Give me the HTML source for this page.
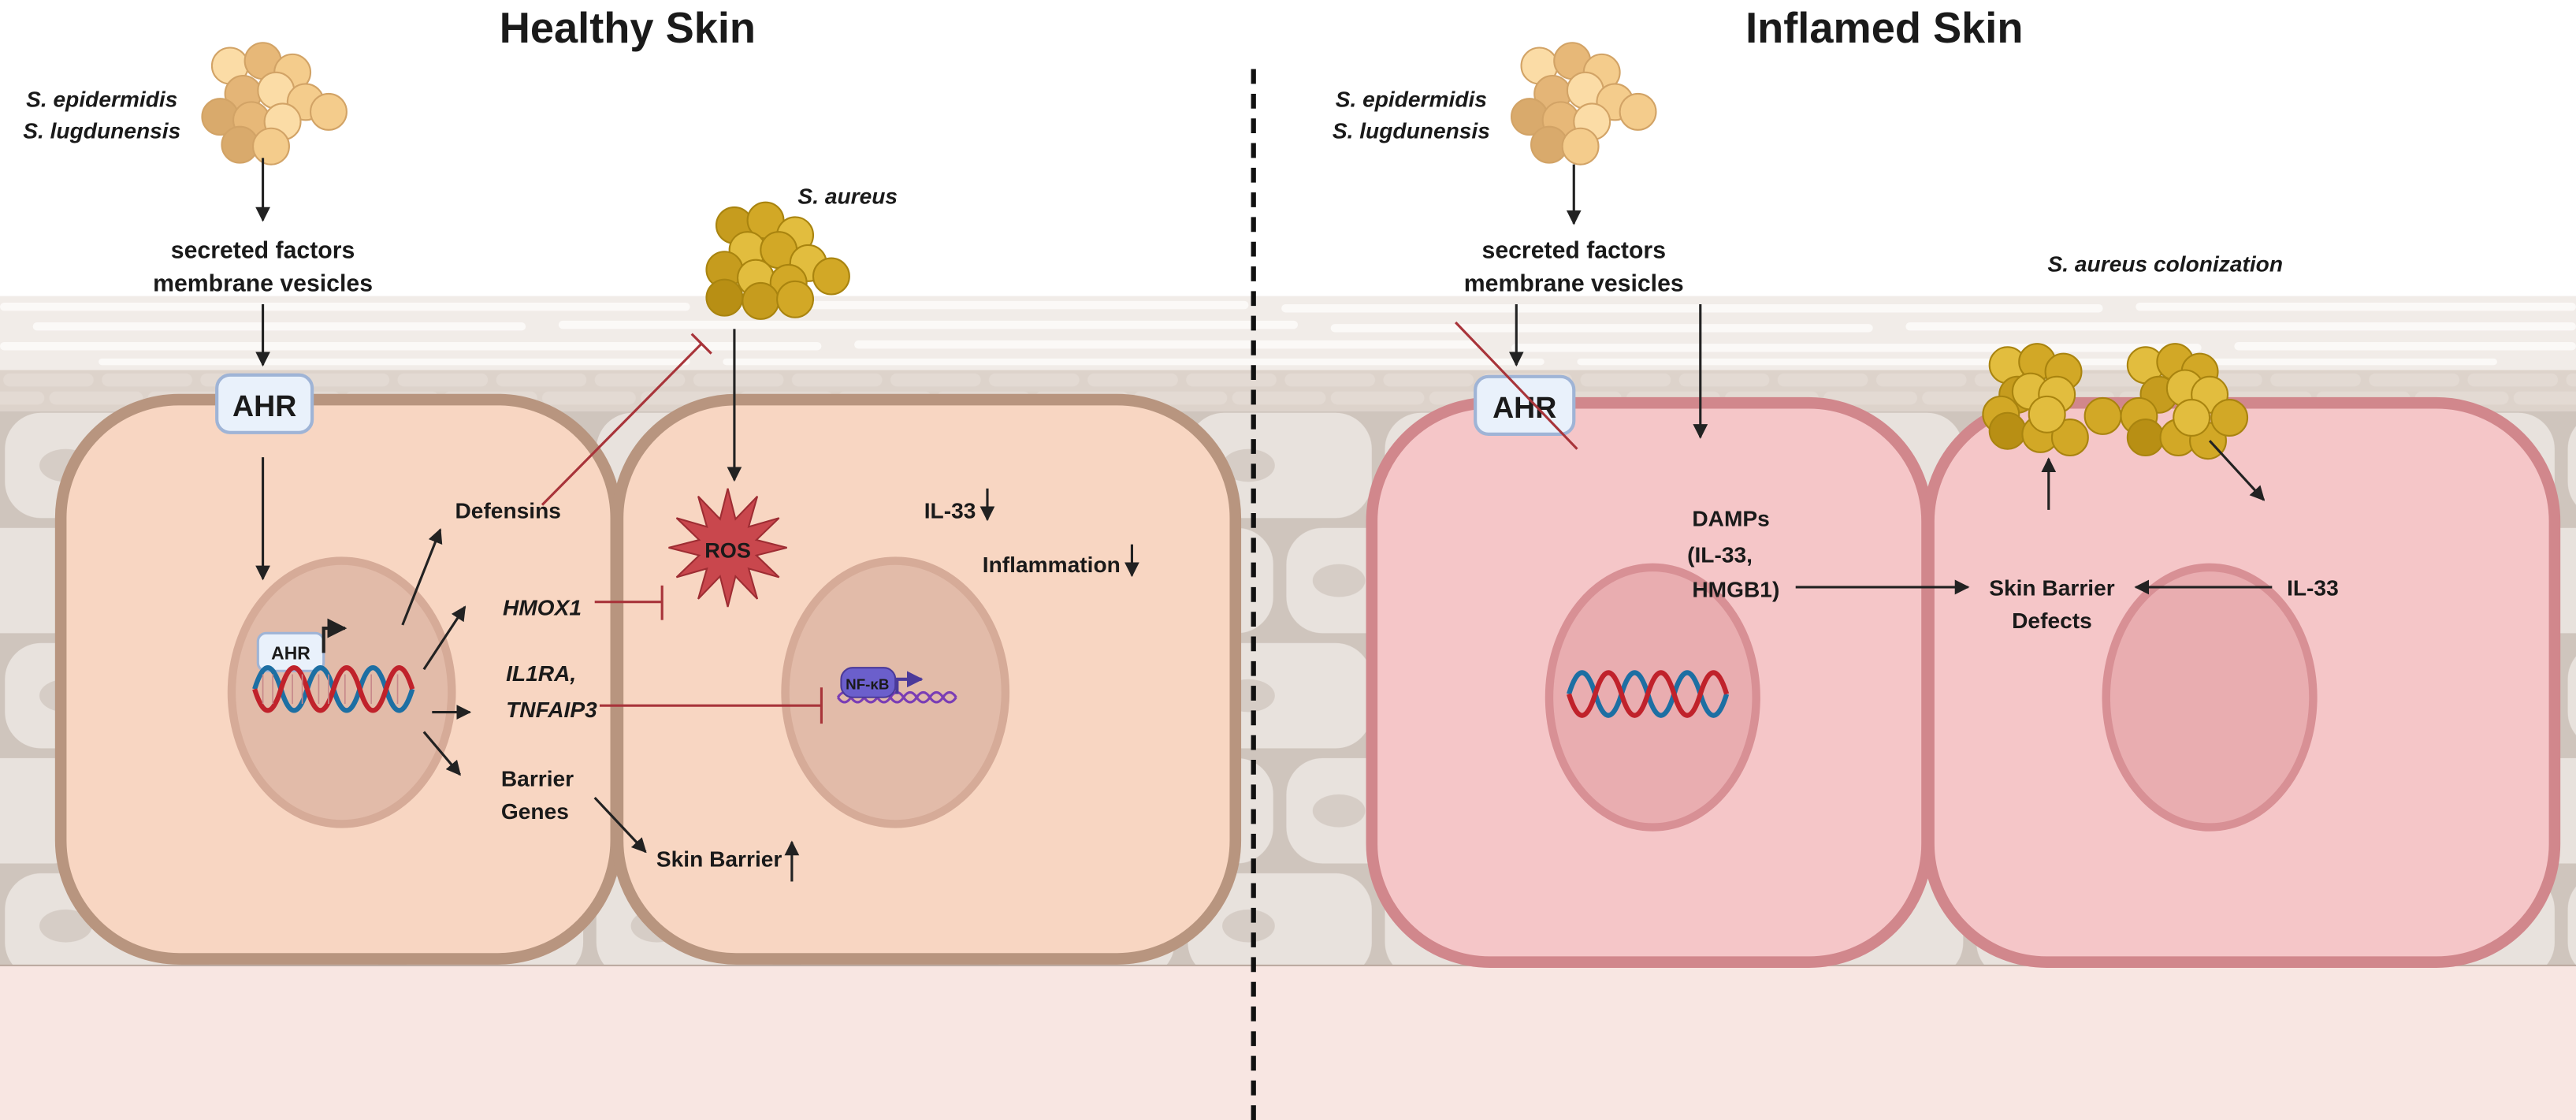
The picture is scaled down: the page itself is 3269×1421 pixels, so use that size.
<!DOCTYPE html>
<html><head><meta charset="utf-8"><style>html,body{margin:0;padding:0;background:#fff}svg{display:block}text{font-family:"Liberation Sans",sans-serif;font-weight:bold;fill:#1a1a1a}</style></head><body>
<svg width="3269" height="1421" viewBox="0 0 1568 681" preserveAspectRatio="none" xmlns="http://www.w3.org/2000/svg">
<defs>
<marker id="ah" viewBox="0 0 10 10" refX="9" refY="5" markerWidth="6" markerHeight="6" orient="auto"><path d="M0,0L10,5L0,10z" fill="#222"/></marker>
<marker id="ahp" viewBox="0 0 10 10" refX="9" refY="5" markerWidth="5" markerHeight="5" orient="auto"><path d="M0,0L10,5L0,10z" fill="#4b3a9a"/></marker>
<pattern id="cells" x="0" y="248" width="120" height="140" patternUnits="userSpaceOnUse">
<rect width="120" height="140" fill="#cfc5bd"/>
<rect x="3" y="3" width="112" height="64" rx="22" fill="#e8e2dd"/>
<ellipse cx="40" cy="35" rx="16" ry="10" fill="#d6cdc6"/>
<rect x="-57" y="73" width="112" height="64" rx="22" fill="#e8e2dd"/>
<rect x="63" y="73" width="112" height="64" rx="22" fill="#e8e2dd"/>
<ellipse cx="95" cy="105" rx="16" ry="10" fill="#d6cdc6"/>
</pattern>
<pattern id="strat" x="0" y="225" width="60" height="24" patternUnits="userSpaceOnUse">
<rect width="60" height="24" fill="#ddd3cb"/>
<rect x="2" y="2" width="55" height="8" rx="4" fill="#e3dad3"/>
<rect x="30" y="13" width="55" height="8" rx="4" fill="#e3dad3"/>
<rect x="-28" y="13" width="55" height="8" rx="4" fill="#e3dad3"/>
</pattern>
</defs>
<rect x="0" y="180" width="1568" height="45" fill="#f1ece8"/>
<g fill="#fbf9f7">
<rect x="0" y="184" width="420" height="5" rx="2.5"/><rect x="440" y="183" width="320" height="5" rx="2.5"/><rect x="780" y="185" width="500" height="5" rx="2.5"/><rect x="1300" y="184" width="268" height="5" rx="2.5"/>
<rect x="20" y="196" width="300" height="5" rx="2.5"/><rect x="340" y="195" width="450" height="5" rx="2.5"/><rect x="810" y="197" width="330" height="5" rx="2.5"/><rect x="1160" y="196" width="408" height="5" rx="2.5"/>
<rect x="0" y="208" width="500" height="5" rx="2.5"/><rect x="520" y="207" width="380" height="5" rx="2.5"/><rect x="920" y="209" width="420" height="5" rx="2.5"/><rect x="1360" y="208" width="208" height="5" rx="2.5"/>
<rect x="60" y="218" width="360" height="4" rx="2"/><rect x="440" y="218" width="500" height="4" rx="2"/><rect x="960" y="218" width="560" height="4" rx="2"/>
</g>
<rect x="0" y="225" width="1568" height="25" fill="url(#strat)"/>
<rect x="0" y="250" width="1568" height="337" fill="url(#cells)"/>
<rect x="0" y="587" width="1568" height="94" fill="#f8e6e2"/>
<line x1="0" y1="587" x2="1568" y2="587" stroke="#b9a79d" stroke-width="1"/>
<line x1="763" y1="42" x2="763" y2="681" stroke="#111" stroke-width="3" stroke-dasharray="9,6"/>

<text x="382" y="26" font-size="26" text-anchor="middle" fill="#111">Healthy Skin</text>
<text x="1147" y="26" font-size="26" text-anchor="middle" fill="#111">Inflamed Skin</text>

<rect x="37" y="243" width="338" height="340" rx="72" fill="#f8d6c2" stroke="#b8957f" stroke-width="7"/>
<rect x="376" y="243" width="376" height="340" rx="72" fill="#f8d6c2" stroke="#b8957f" stroke-width="7"/>
<ellipse cx="208" cy="421" rx="67" ry="80" fill="#e2bba9" stroke="#d6ab98" stroke-width="5"/>
<ellipse cx="545" cy="421" rx="67" ry="80" fill="#e2bba9" stroke="#d6ab98" stroke-width="5"/>
<rect x="835" y="245" width="338" height="340" rx="72" fill="#f5c6c8" stroke="#d1878c" stroke-width="7"/>
<rect x="1174" y="245" width="381" height="340" rx="72" fill="#f5c6c8" stroke="#d1878c" stroke-width="7"/>
<ellipse cx="1006" cy="424" rx="63" ry="79" fill="#e9adb0" stroke="#d89095" stroke-width="5"/>
<ellipse cx="1345" cy="424" rx="63" ry="79" fill="#e9adb0" stroke="#d89095" stroke-width="5"/>

<g fill="#f4cc8c" stroke="#d2a366" stroke-width="1">
<circle cx="140" cy="40" r="11" fill="#fbdca6"/><circle cx="160" cy="37" r="11" fill="#e7b878"/><circle cx="178" cy="44" r="11"/><circle cx="148" cy="57" r="11" fill="#e4b577"/><circle cx="168" cy="55" r="11" fill="#fbdca6"/><circle cx="186" cy="62" r="11"/><circle cx="134" cy="71" r="11" fill="#d9aa6c"/><circle cx="153" cy="73" r="11" fill="#e7b878"/><circle cx="172" cy="74" r="11" fill="#fbdca6"/><circle cx="200" cy="68" r="11"/><circle cx="146" cy="88" r="11" fill="#d9aa6c"/><circle cx="165" cy="89" r="11"/>
</g>
<g fill="#f4cc8c" stroke="#d2a366" stroke-width="1">
<circle cx="937" cy="40" r="11" fill="#fbdca6"/><circle cx="957" cy="37" r="11" fill="#e7b878"/><circle cx="975" cy="44" r="11"/><circle cx="945" cy="57" r="11" fill="#e4b577"/><circle cx="965" cy="55" r="11" fill="#fbdca6"/><circle cx="983" cy="62" r="11"/><circle cx="931" cy="71" r="11" fill="#d9aa6c"/><circle cx="950" cy="73" r="11" fill="#e7b878"/><circle cx="969" cy="74" r="11" fill="#fbdca6"/><circle cx="997" cy="68" r="11"/><circle cx="943" cy="88" r="11" fill="#d9aa6c"/><circle cx="962" cy="89" r="11"/>
</g>
<g fill="#d2a826" stroke="#a9840f" stroke-width="1">
<circle cx="447" cy="137" r="11" fill="#c69c1e"/><circle cx="466" cy="134" r="11"/><circle cx="484" cy="143" r="11" fill="#e2bd3e"/><circle cx="455" cy="152" r="11" fill="#e2bd3e"/><circle cx="474" cy="152" r="11"/><circle cx="492" cy="160" r="11" fill="#e2bd3e"/><circle cx="441" cy="164" r="11" fill="#c69c1e"/><circle cx="460" cy="169" r="11" fill="#e2bd3e"/><circle cx="480" cy="172" r="11"/><circle cx="506" cy="168" r="11"/><circle cx="441" cy="181" r="11" fill="#b88f14"/><circle cx="463" cy="183" r="11" fill="#c69c1e"/><circle cx="484" cy="182" r="11"/>
</g>
<g fill="#d2a826" stroke="#a9840f" stroke-width="1">
<circle cx="1222" cy="222" r="11" fill="#e2bd3e"/><circle cx="1240" cy="220" r="11"/><circle cx="1256" cy="226" r="11"/><circle cx="1228" cy="240" r="11" fill="#c69c1e"/><circle cx="1218" cy="252" r="11"/><circle cx="1236" cy="238" r="11" fill="#e2bd3e"/><circle cx="1252" cy="240" r="11" fill="#e2bd3e"/><circle cx="1222" cy="262" r="11" fill="#b88f14"/><circle cx="1242" cy="264" r="11"/><circle cx="1260" cy="266" r="11"/><circle cx="1246" cy="252" r="11" fill="#e2bd3e"/><circle cx="1280" cy="253" r="11"/>
<circle cx="1306" cy="222" r="11" fill="#e2bd3e"/><circle cx="1324" cy="220" r="11"/><circle cx="1339" cy="226" r="11"/><circle cx="1314" cy="240" r="11" fill="#c69c1e"/><circle cx="1302" cy="253" r="11"/><circle cx="1330" cy="236" r="11" fill="#e2bd3e"/><circle cx="1345" cy="240" r="11" fill="#e2bd3e"/><circle cx="1306" cy="266" r="11" fill="#b88f14"/><circle cx="1326" cy="266" r="11"/><circle cx="1344" cy="268" r="11"/><circle cx="1334" cy="254" r="11" fill="#e2bd3e"/><circle cx="1357" cy="254" r="11"/>
</g>

<g font-style="italic" font-size="13.5">
<text x="62" y="65" text-anchor="middle">S. epidermidis</text>
<text x="62" y="84" text-anchor="middle">S. lugdunensis</text>
<text x="859" y="65" text-anchor="middle">S. epidermidis</text>
<text x="859" y="84" text-anchor="middle">S. lugdunensis</text>
<text x="516" y="124" text-anchor="middle">S. aureus</text>
<text x="1318" y="165" text-anchor="middle">S. aureus colonization</text>
</g>
<g font-size="14.5" text-anchor="middle">
<text x="160" y="157">secreted factors</text><text x="160" y="177">membrane vesicles</text>
<text x="958" y="157">secreted factors</text><text x="958" y="177">membrane vesicles</text>
</g>
<g stroke="#222" stroke-width="1.5" fill="none" marker-end="url(#ah)">
<line x1="160" y1="96" x2="160" y2="134"/>
<line x1="160" y1="185" x2="160" y2="222"/>
<line x1="160" y1="278" x2="160" y2="352"/>
<line x1="958" y1="100" x2="958" y2="136"/>
<line x1="923" y1="185" x2="923" y2="222"/>
<line x1="1035" y1="185" x2="1035" y2="266"/>
<line x1="447" y1="200" x2="447" y2="292"/>
<line x1="245" y1="380" x2="268" y2="322"/>
<line x1="258" y1="407" x2="283" y2="369"/>
<line x1="263" y1="433" x2="286" y2="433"/>
<line x1="258" y1="445" x2="280" y2="471"/>
<line x1="362" y1="485" x2="393" y2="518"/>
<line x1="1093" y1="357" x2="1198" y2="357"/>
<line x1="1383" y1="357" x2="1300" y2="357"/>
<line x1="1247" y1="310" x2="1247" y2="279"/>
<line x1="1345" y1="268" x2="1378" y2="304"/>
<line x1="601" y1="297" x2="601" y2="316"/>
<line x1="689" y1="331" x2="689" y2="350"/>
<line x1="482" y1="536" x2="482" y2="512"/>
</g>
<rect x="132" y="228" width="58" height="35" rx="8" fill="#e9f1fb" stroke="#9fb4d6" stroke-width="2"/>
<text x="161" y="253" font-size="18" font-weight="normal" text-anchor="middle">AHR</text>
<rect x="898" y="229" width="60" height="35" rx="8" fill="#e9f1fb" stroke="#9fb4d6" stroke-width="2"/>
<text x="928" y="254" font-size="18" font-weight="normal" text-anchor="middle" fill="#888">AHR</text>
<line x1="886" y1="196" x2="960" y2="273" stroke="#a8343a" stroke-width="1.5"/>
<rect x="157" y="385" width="40" height="23" rx="5" fill="#e9f1fb" stroke="#9fb4d6" stroke-width="1.5"/>
<text x="177" y="401" font-size="11" font-weight="normal" text-anchor="middle">AHR</text>
<path d="M197,397 V382 H210" stroke="#222" stroke-width="2" fill="none" marker-end="url(#ah)"/>
<g stroke-width="3" fill="none">
<path d="M155,419 Q163,393 171,419 T187,419 T203,419 T219,419 T235,419 T251,419" stroke="#1d6fa3"/>
<path d="M155,419 Q163,445 171,419 T187,419 T203,419 T219,419 T235,419 T251,419" stroke="#c0222b"/>
</g>
<g stroke="#c7888a" stroke-width="0.8"><line x1="160" y1="410" x2="160" y2="428"/><line x1="166" y1="410" x2="166" y2="428"/><line x1="178" y1="410" x2="178" y2="428"/><line x1="184" y1="410" x2="184" y2="428"/><line x1="194" y1="410" x2="194" y2="428"/><line x1="200" y1="410" x2="200" y2="428"/><line x1="210" y1="410" x2="210" y2="428"/><line x1="226" y1="410" x2="226" y2="428"/><line x1="242" y1="410" x2="242" y2="428"/></g>
<g transform="translate(800,3)">
<g stroke-width="3" fill="none">
<path d="M155,419 Q163,393 171,419 T187,419 T203,419 T219,419 T235,419 T251,419" stroke="#1d6fa3"/>
<path d="M155,419 Q163,445 171,419 T187,419 T203,419 T219,419 T235,419 T251,419" stroke="#c0222b"/>
</g>
</g>
<g font-size="13.5">
<text x="277" y="315">Defensins</text>
<text x="306" y="374" font-style="italic">HMOX1</text>
<text x="308" y="414" font-style="italic">IL1RA,</text>
<text x="308" y="436" font-style="italic">TNFAIP3</text>
<text x="305" y="478">Barrier</text>
<text x="305" y="498">Genes</text>
<text x="476" y="527" text-anchor="end">Skin Barrier</text>
<text x="594" y="315" text-anchor="end">IL-33</text>
<text x="682" y="348" text-anchor="end">Inflammation</text>
<text x="1030" y="320">DAMPs</text>
<text x="1027" y="342">(IL-33,</text>
<text x="1030" y="363">HMGB1)</text>
<text x="1249" y="362" text-anchor="middle">Skin Barrier</text>
<text x="1249" y="382" text-anchor="middle">Defects</text>
<text x="1392" y="362">IL-33</text>
</g>
<g stroke="#a8343a" stroke-width="1.5" fill="none">
<line x1="330" y1="307" x2="427" y2="209"/><line x1="421" y1="203" x2="433" y2="215"/>
<line x1="362" y1="366" x2="403" y2="366"/><line x1="403" y1="356" x2="403" y2="377"/>
<line x1="365" y1="429" x2="500" y2="429"/><line x1="500" y1="418" x2="500" y2="440"/>
</g>
<polygon points="443,297 447.7,315.6 461,301.8 455.7,320.3 474.2,315 460.4,328.3 479,333 460.4,337.7 474.2,351 455.7,345.7 461,364.2 447.7,350.4 443,369 438.3,350.4 425,364.2 430.3,345.7 411.8,351 425.6,337.7 407,333 425.6,328.3 411.8,315 430.3,320.3 425,301.8 438.3,315.6" fill="#c9474d" stroke="#9e2d33" stroke-width="1"/>
<text x="443" y="339" font-size="13" fill="#fff" text-anchor="middle">ROS</text>
<path d="M510,424 q4,-6 8,0 t8,0 t8,0 t8,0 t8,0 t8,0 t8,0 t8,0 t8,0" stroke="#7a3db5" stroke-width="1.5" fill="none"/>
<path d="M510,424 q4,6 8,0 t8,0 t8,0 t8,0 t8,0 t8,0 t8,0 t8,0 t8,0" stroke="#7a3db5" stroke-width="1.5" fill="none"/>
<rect x="512" y="406" width="33" height="18" rx="7" fill="#6b5fcc" stroke="#4b3a9a" stroke-width="1"/>
<text x="528" y="419" font-size="9" font-weight="normal" fill="#fff" text-anchor="middle">NF-κB</text>
<path d="M546,422 V413 H561" stroke="#4b3a9a" stroke-width="2" fill="none" marker-end="url(#ahp)"/>
</svg>
</body></html>
